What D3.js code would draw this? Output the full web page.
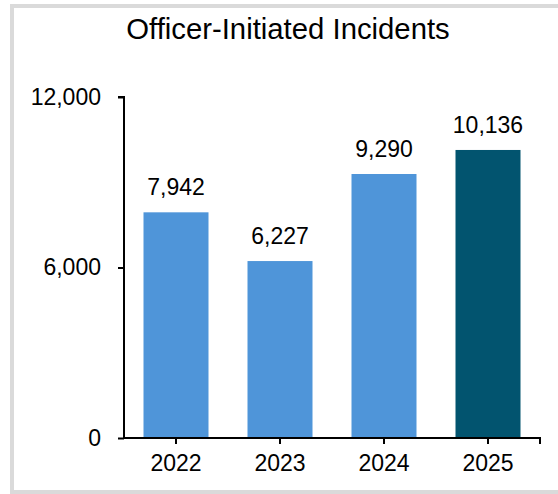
<!DOCTYPE html>
<html>
<head>
<meta charset="utf-8">
<script src="https://cdn.jsdelivr.net/npm/d3@7"></script>
<style>
  html, body { margin: 0; padding: 0; background: #fff; }
  svg { display: block; font-family: "Liberation Sans", Arial, sans-serif; }
</style>
</head>
<body>
<svg id="chart" width="558" height="494"></svg>
<script>
// Officer-initiated incidents per year
const years = ["2022", "2023", "2024", "2025"];
const incidents = [7942, 6227, 9290, 10136];
const yTicks = [0, 6000, 12000];
const barColors = ["#4f95d9", "#4f95d9", "#4f95d9", "#02546f"];
const title = "Officer-Initiated Incidents";

const svg = d3.select("#chart");
const W = 558;
const plot = { left: 124, right: 540, top: 97, bottom: 438 };

// frame
svg.append("rect")
  .attr("x", 12).attr("y", 6)
  .attr("width", W + 10).attr("height", 486)
  .attr("fill", "#fff")
  .attr("stroke", "#dadada")
  .attr("stroke-width", 4);

svg.append("text")
  .attr("x", 288).attr("y", 39)
  .attr("text-anchor", "middle")
  .attr("font-size", 29.3)
  .attr("fill", "#000")
  .text(title);

const x = d3.scaleBand()
  .domain(years)
  .range([plot.left, plot.right])
  .paddingInner(0.375)
  .paddingOuter(0.1875);

const y = d3.scaleLinear()
  .domain([0, 12000])
  .range([plot.bottom, plot.top]);

const fmt = d3.format(",");

svg.append("g")
  .selectAll("rect")
  .data(incidents)
  .join("rect")
  .attr("x", (d, i) => x(years[i]))
  .attr("y", d => y(d))
  .attr("width", x.bandwidth())
  .attr("height", d => y(0) - y(d))
  .attr("fill", (d, i) => barColors[i]);

svg.append("g")
  .selectAll("text")
  .data(incidents)
  .join("text")
  .attr("x", (d, i) => x(years[i]) + x.bandwidth() / 2)
  .attr("y", d => y(d) - 17)
  .attr("text-anchor", "middle")
  .attr("font-size", 23)
  .attr("fill", "#000")
  .text(d => fmt(d));

// y axis
const yAxis = svg.append("g")
  .attr("transform", `translate(${plot.left},0)`)
  .call(d3.axisLeft(y).tickValues(yTicks).tickFormat(fmt).tickSize(6).tickPadding(17));
yAxis.select(".domain").attr("d", `M-6,${plot.top}H0V${plot.bottom}`);

// x axis
const xAxis = svg.append("g")
  .attr("transform", `translate(0,${plot.bottom})`)
  .call(d3.axisBottom(x).tickSize(6).tickPadding(11));
xAxis.select(".domain").attr("d", `M${plot.left},0H${plot.right}V6`);

svg.selectAll(".tick text")
  .attr("font-family", "Liberation Sans, Arial, sans-serif")
  .attr("font-size", 23)
  .attr("fill", "#000");
svg.selectAll(".domain, .tick line")
  .attr("stroke", "#000")
  .attr("stroke-width", 2);
</script>
</body>
</html>
